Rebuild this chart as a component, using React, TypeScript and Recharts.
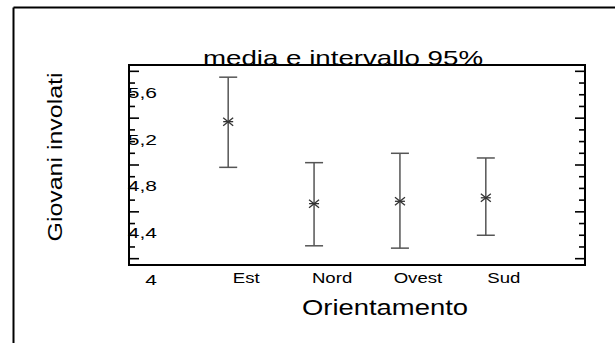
import React from 'react';
import { ScatterChart, Scatter, XAxis, YAxis, ErrorBar, ReferenceArea } from 'recharts';

// media e intervallo 95% per orientamento
const categories = ['Est', 'Nord', 'Ovest', 'Sud'];
const means = [5.37, 4.67, 4.69, 4.72];
const lows = [4.98, 4.31, 4.29, 4.4];
const highs = [5.75, 5.02, 5.1, 5.06];

const yMinorTicks = [4.2, 4.3, 4.4, 4.5, 4.6, 4.7, 4.8, 4.9, 5.0, 5.1, 5.2, 5.3, 5.4, 5.5, 5.6, 5.7, 5.8];
const yMajorTicks = [4.2, 4.6, 5.0, 5.4, 5.8];
const yLabelTicks = [4.0, 4.4, 4.8, 5.2, 5.6];

const Y_DOMAIN: [number, number] = [4.146, 5.854];
const X_DOMAIN: [number, number] = [-0.155, 5.155];

const FONT = '"Liberation Sans", Arial, sans-serif';

const data = categories.map((c, i) => ({
  x: i + 1,
  y: means[i],
  err: [means[i] - lows[i], highs[i] - means[i]],
}));

const same = (a: number, b: number) => Math.abs(a - b) < 1e-6;
const fmt = (v: number) => (same(v, 4) ? '4' : v.toFixed(1).replace('.', ','));

const leftTicks = [4.0, ...yMinorTicks];

const renderLeftTick = (props: any) => {
  const { x, y, payload } = props;
  const v = payload.value as number;
  const isMinor = yMinorTicks.some((t) => same(t, v));
  const isMajor = yMajorTicks.some((t) => same(t, v));
  const isLabel = yLabelTicks.some((t) => same(t, v));
  return (
    <g>
      {isMinor && (
        <line x1={x} y1={y} x2={x + (isMajor ? 10 : 6)} y2={y} stroke="#000" strokeWidth={1.6} />
      )}
      {isLabel && (
        <text
          transform={`translate(${x + 28},${y + 3}) scale(1.4,1)`}
          textAnchor="end"
          fontSize={15}
          fontFamily={FONT}
          fill="#000"
        >
          {fmt(v)}
        </text>
      )}
    </g>
  );
};

const renderRightTick = (props: any) => {
  const { x, y, payload } = props;
  const v = payload.value as number;
  const isMajor = yMajorTicks.some((t) => same(t, v));
  return <line x1={x} y1={y} x2={x - (isMajor ? 10 : 6)} y2={y} stroke="#000" strokeWidth={1.6} />;
};

const renderCategoryTick = (props: any) => {
  const { x, y, payload } = props;
  const label = categories[Math.round(payload.value) - 1];
  return (
    <text
      transform={`translate(${x + 18},${y + 18}) scale(1.33,1)`}
      textAnchor="middle"
      fontSize={14}
      fontFamily={FONT}
      fill="#000"
    >
      {label}
    </text>
  );
};

const renderAsterisk = (props: any) => {
  const { cx, cy } = props;
  if (cx == null || cy == null) return <g />;
  return (
    <g stroke="#333" strokeWidth={1.3}>
      <line x1={cx - 5} y1={cy - 4} x2={cx + 5} y2={cy + 4} />
      <line x1={cx - 5} y1={cy + 4} x2={cx + 5} y2={cy - 4} />
      <line x1={cx - 5} y1={cy} x2={cx + 5} y2={cy} />
    </g>
  );
};

export default function App() {
  return (
    <div style={{ position: 'absolute', left: 0, top: 0, width: 615, height: 343, background: '#fff' }}>
      <ScatterChart width={615} height={343} margin={{ top: 65, right: 0, bottom: 48, left: 99 }}>
        <XAxis
          type="number"
          dataKey="x"
          domain={X_DOMAIN}
          ticks={[1, 2, 3, 4]}
          interval={0}
          allowDataOverflow
          height={30}
          axisLine={false}
          tickLine={false}
          tickSize={0}
          tickMargin={0}
          tick={renderCategoryTick}
        />
        <YAxis
          type="number"
          dataKey="y"
          domain={Y_DOMAIN}
          ticks={leftTicks}
          interval={0}
          allowDataOverflow
          width={30}
          axisLine={false}
          tickLine={false}
          tickSize={0}
          tickMargin={0}
          tick={renderLeftTick}
        />
        <YAxis
          yAxisId="r"
          orientation="right"
          type="number"
          domain={Y_DOMAIN}
          ticks={yMinorTicks}
          interval={0}
          allowDataOverflow
          width={30}
          axisLine={false}
          tickLine={false}
          tickSize={0}
          tickMargin={0}
          tick={renderRightTick}
        />
        <ReferenceArea
          x1={X_DOMAIN[0]}
          x2={X_DOMAIN[1]}
          y1={Y_DOMAIN[0]}
          y2={Y_DOMAIN[1]}
          fill="none"
          fillOpacity={0}
          stroke="#000"
          strokeWidth={2}
          strokeOpacity={1}
          ifOverflow="visible"
        />
        <Scatter data={data} shape={renderAsterisk} isAnimationActive={false}>
          <ErrorBar dataKey="err" direction="y" width={9} stroke="#555" strokeWidth={1.5} isAnimationActive={false} />
        </Scatter>
      </ScatterChart>
      <svg
        width={615}
        height={343}
        style={{ position: 'absolute', left: 0, top: 0, pointerEvents: 'none' }}
      >
        <line x1={13.5} y1={7.5} x2={615} y2={7.5} stroke="#000" strokeWidth={2} />
        <line x1={13.5} y1={7.5} x2={13.5} y2={343} stroke="#000" strokeWidth={2} />
        <text
          x={343}
          y={65}
          textAnchor="middle"
          fontSize={21}
          fontFamily={FONT}
          textLength={280}
          lengthAdjust="spacingAndGlyphs"
          fill="#000"
        >
          media e intervallo 95%
        </text>
        <text
          transform="translate(62,157) rotate(-90)"
          textAnchor="middle"
          fontSize={21}
          fontFamily={FONT}
          textLength={169}
          lengthAdjust="spacingAndGlyphs"
          fill="#000"
        >
          Giovani involati
        </text>
        <text
          x={385}
          y={315}
          textAnchor="middle"
          fontSize={22}
          fontFamily={FONT}
          textLength={166}
          lengthAdjust="spacingAndGlyphs"
          fill="#000"
        >
          Orientamento
        </text>
      </svg>
    </div>
  );
}
